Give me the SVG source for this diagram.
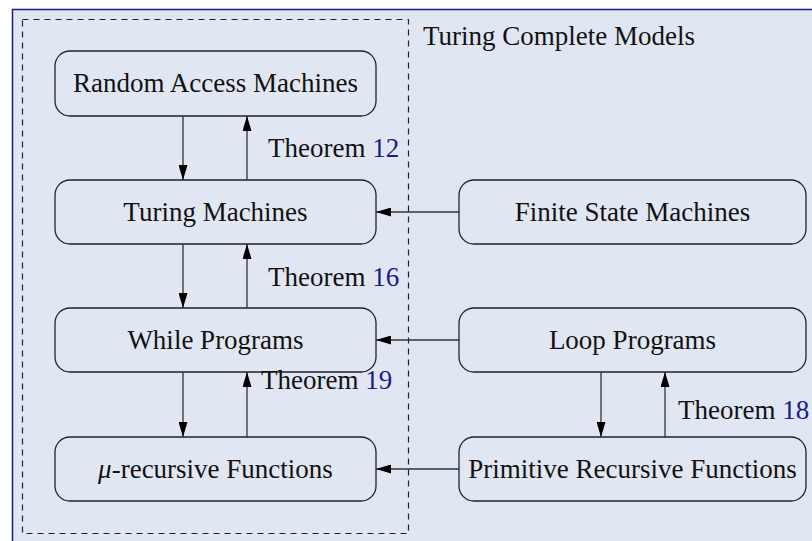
<svg xmlns="http://www.w3.org/2000/svg" width="812" height="541" viewBox="0 0 812 541">
<style>
.bg{fill:#e1e7f2;stroke:#1a1a8c;stroke-width:1.5}
.node rect{fill:#e1e7f2;stroke:#222;stroke-width:1.3}
text{font-family:"Liberation Serif","Times New Roman",serif;font-size:27px;fill:#111}
.node text{text-anchor:middle}
.num{fill:#1a1a8c}
.conn line{stroke:#333;stroke-width:1.3}
</style>
<defs>
<marker id="ah" viewBox="0 0 15 9" refX="15" refY="4.5" markerWidth="15" markerHeight="9" markerUnits="userSpaceOnUse" orient="auto">
<path d="M0,0 L15,4.5 L0,9 z" fill="#000"/>
</marker>
</defs>
<rect class="bg" x="12.5" y="9.5" width="810" height="540"/>
<rect x="22.5" y="19.5" width="386" height="514" fill="none" stroke="#222" stroke-width="1.2" stroke-dasharray="6,5"/>
<text x="423" y="45">Turing Complete Models</text>
<g id="ram" class="node"><rect x="55" y="51" width="321" height="65" rx="15"/><text x="215.5" y="92">Random Access Machines</text></g>
<g id="tm" class="node"><rect x="55" y="180" width="321" height="64" rx="15"/><text x="215.5" y="221">Turing Machines</text></g>
<g id="while" class="node"><rect x="55" y="308" width="321" height="64" rx="15"/><text x="215.5" y="349">While Programs</text></g>
<g id="mu" class="node"><rect x="55" y="437" width="321" height="64" rx="15"/><text x="215.5" y="478"><tspan font-style="italic">μ</tspan>-recursive Functions</text></g>
<g id="fsm" class="node"><rect x="459" y="180" width="347" height="64" rx="15"/><text x="632.5" y="221">Finite State Machines</text></g>
<g id="loop" class="node"><rect x="459" y="308" width="347" height="64" rx="15"/><text x="632.5" y="349">Loop Programs</text></g>
<g id="prf" class="node"><rect x="459" y="437" width="347" height="64" rx="15"/><text x="632.5" y="478">Primitive Recursive Functions</text></g>
<g id="connectors" class="conn">
<line x1="183" y1="116" x2="183" y2="180" marker-end="url(#ah)"/>
<line x1="247" y1="180" x2="247" y2="116" marker-end="url(#ah)"/>
<line x1="183" y1="244" x2="183" y2="308" marker-end="url(#ah)"/>
<line x1="247" y1="308" x2="247" y2="244" marker-end="url(#ah)"/>
<line x1="183" y1="372" x2="183" y2="437" marker-end="url(#ah)"/>
<line x1="247" y1="437" x2="247" y2="372" marker-end="url(#ah)"/>
<line x1="601" y1="372" x2="601" y2="437" marker-end="url(#ah)"/>
<line x1="665" y1="437" x2="665" y2="372" marker-end="url(#ah)"/>
<line x1="459" y1="212" x2="376" y2="212" marker-end="url(#ah)"/>
<line x1="459" y1="340" x2="376" y2="340" marker-end="url(#ah)"/>
<line x1="459" y1="469" x2="376" y2="469" marker-end="url(#ah)"/>
</g>
<text x="268" y="157">Theorem <tspan class="num">12</tspan></text>
<text x="268" y="286">Theorem <tspan class="num">16</tspan></text>
<text x="261" y="389">Theorem <tspan class="num">19</tspan></text>
<text x="678" y="419">Theorem <tspan class="num">18</tspan></text>
</svg>
